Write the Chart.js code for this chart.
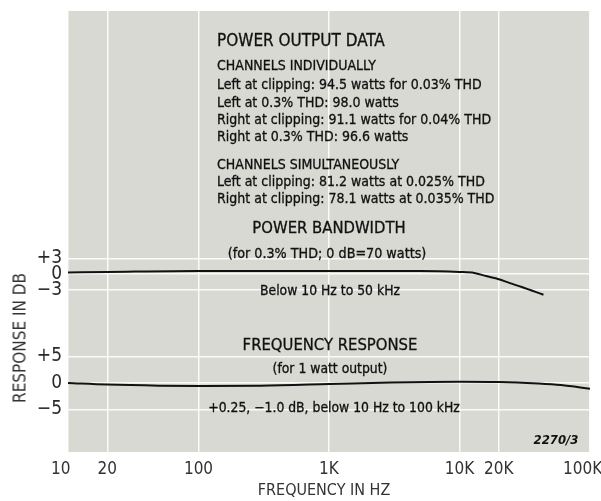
<!DOCTYPE html>
<html><head><meta charset="utf-8">
<script src="https://cdn.jsdelivr.net/npm/chart.js@4"></script>
<style>
body{margin:0;background:#fff}
#wrap{position:relative;width:601px;height:501px;overflow:hidden}
canvas{position:absolute;left:0;top:0}
.t{position:absolute;white-space:nowrap;line-height:1;color:#111;-webkit-text-stroke:0.3px #111;font-family:'Liberation Sans Narrow','DejaVu Sans Condensed','Liberation Sans',sans-serif}
</style></head><body>
<div id="wrap"><canvas id="c" width="601" height="501"></canvas></div>
<script>
// ---- data ----
const frequencyTicks = [10, 20, 100, 1000, 10000, 20000, 100000];
const tickLabels = ['10', '20', '100', '1K', '10K', '20K', '100K'];
const powerFreq = [10, 20, 100, 1000, 5000, 10000, 13000, 16000, 20000, 24000, 30000, 44000];
const powerDb   = [0.3, 0.4, 0.6, 0.6, 0.6, 0.4, 0.2, -0.4, -1.0, -1.7, -2.5, -4.0];
const respFreq  = [10, 20, 50, 100, 300, 1000, 3000, 10000, 20000, 40000, 60000, 100000];
const respDb    = [0, -0.3, -0.5, -0.55, -0.5, -0.2, 0.1, 0.25, 0.2, -0.1, -0.4, -1.1];
const powerTicks = [-3, 0, 3];
const respTicks  = [-5, 0, 5];
const xTitle = 'FREQUENCY IN HZ';
const yTitle = 'RESPONSE IN DB';

// ---- annotation text (layout) ----
const notes = [
  {s:'POWER OUTPUT DATA', x:217, y:40, f:17},
  {s:'CHANNELS INDIVIDUALLY', x:217, y:65, f:14},
  {s:'Left at clipping: 94.5 watts for 0.03% THD', x:217, y:84, f:14},
  {s:'Left at 0.3% THD: 98.0 watts', x:217, y:102, f:14},
  {s:'Right at clipping: 91.1 watts for 0.04% THD', x:217, y:119, f:14},
  {s:'Right at 0.3% THD: 96.6 watts', x:217, y:136, f:14},
  {s:'CHANNELS SIMULTANEOUSLY', x:217, y:164, f:14},
  {s:'Left at clipping: 81.2 watts at 0.025% THD', x:217, y:181, f:14},
  {s:'Right at clipping: 78.1 watts at 0.035% THD', x:217, y:198, f:14},
  {s:'POWER BANDWIDTH', x:329, y:228, f:16.5, c:1},
  {s:'(for 0.3% THD; 0 dB=70 watts)', x:327, y:253, f:14.2, c:1},
  {s:'Below 10 Hz to 50 kHz', x:330, y:291, f:13.8, c:1},
  {s:'FREQUENCY RESPONSE', x:330, y:345, f:16.5, c:1},
  {s:'(for 1 watt output)', x:330, y:369, f:13.8, c:1},
  {s:'+0.25, \u22121.0 dB, below 10 Hz to 100 kHz', x:334, y:408, f:13.8, c:1},
  {s:'2270/3', x:556, y:439, f:13, c:1, it:1},
  {s:xTitle, x:324, y:490, f:16, c:1, col:'#333', ns:1},
];
const wrap = document.getElementById('wrap');
notes.forEach(n => {
  const d = document.createElement('div');
  d.className = 't';
  d.textContent = n.s;
  d.style.fontSize = n.f + 'px';
  d.style.left = n.x + 'px';
  d.style.top = n.y + 'px';
  d.style.transform = n.c ? 'translate(-50%,-50%)' : 'translate(0,-50%)';
  if (n.it) { d.style.fontStyle = 'italic'; d.style.fontWeight = 'bold'; d.style.webkitTextStroke = '0'; }
  if (n.col) { d.style.color = n.col; }
  if (n.ns) { d.style.webkitTextStroke = '0'; }
  wrap.appendChild(d);
});
const yt = document.createElement('div');
yt.className = 't';
yt.textContent = yTitle;
yt.style.fontSize = '17px';
yt.style.color = '#333';
yt.style.webkitTextStroke = '0';
yt.style.left = '20px';
yt.style.top = '338px';
yt.style.transform = 'translate(-50%,-50%) rotate(-90deg)';
wrap.appendChild(yt);

const bg = {id:'bg', beforeDraw(c){const {ctx, chartArea:a} = c; ctx.save(); ctx.fillStyle = '#d9d9d3'; ctx.fillRect(a.left, a.top, a.right - a.left, a.bottom - a.top); ctx.restore();}};

const tickFont = {family:"'Liberation Sans Narrow','DejaVu Sans Condensed','Liberation Sans',sans-serif", size:17};
const yFont = {family:"'Liberation Sans Narrow','DejaVu Sans Condensed','Liberation Sans',sans-serif", size:19};
const grid = {color:'rgba(255,255,255,0.85)', lineWidth:1.5, drawTicks:false};
const fmt = v => v > 0 ? '+' + v : (v < 0 ? '\u2212' + Math.abs(v) : '0');
const fitY = s => { s.width = 68; s.paddingTop = 0; s.paddingBottom = 0; };
// first and last labels sit slightly left of their grid lines in the original print
const xLabel = (v, i) => (i === 0 || i === tickLabels.length - 1) ? tickLabels[i] + '   ' : tickLabels[i];

new Chart(document.getElementById('c'), {
  type: 'line',
  data: {
    datasets: [
      {data: powerFreq.map((f, i) => ({x:f, y:powerDb[i]})), yAxisID:'yP', borderColor:'#111', borderWidth:2, pointRadius:0, cubicInterpolationMode:'monotone', fill:false},
      {data: respFreq.map((f, i) => ({x:f, y:respDb[i]})), yAxisID:'yF', borderColor:'#111', borderWidth:2, pointRadius:0, cubicInterpolationMode:'monotone', fill:false}
    ]
  },
  options: {
    responsive:false, animation:false,
    layout:{padding:{top:11, right:11, left:0, bottom:0}},
    plugins:{legend:{display:false}, tooltip:{enabled:false}},
    scales: {
      x: {type:'logarithmic', min:10, max:100000, grid:grid, border:{display:false},
          afterBuildTicks: s => { s.ticks = frequencyTicks.map(v => ({value:v})); },
          afterFit: s => { s.height = 49; s.paddingLeft = 0; s.paddingRight = 0; },
          ticks:{autoSkip:false, maxRotation:0, align:'center', padding:7, color:'#333', font:tickFont,
                 callback: xLabel}},
      yF: {type:'linear', position:'left', stack:'db', stackWeight:130, min:-13.02, max:11.51,
           grid:grid, border:{display:false},
           afterBuildTicks: s => { s.ticks = respTicks.map(v => ({value:v})); },
           afterFit: fitY,
           ticks:{padding:6, color:'#2a2a2a', font:yFont, callback: fmt}},
      yP: {type:'linear', position:'left', stack:'db', stackWeight:311, min:-9.23, max:50.58,
           grid:grid, border:{display:false},
           afterBuildTicks: s => { s.ticks = powerTicks.map(v => ({value:v})); },
           afterFit: fitY,
           ticks:{padding:6, color:'#2a2a2a', font:yFont, callback: fmt}}
    }
  },
  plugins:[bg]
});
</script>
</body></html>
